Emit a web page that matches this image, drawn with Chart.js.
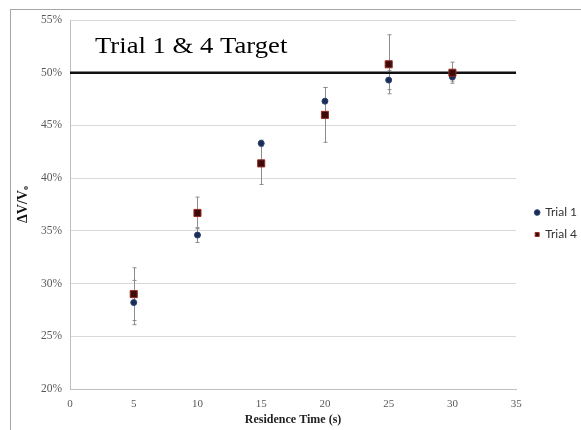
<!DOCTYPE html>
<html>
<head>
<meta charset="utf-8">
<script src="https://cdn.jsdelivr.net/npm/chart.js@4.4.0/dist/chart.umd.min.js"></script>
<style>
  body { margin: 0; background: #fff; }
  #wrap { position: relative; width: 581px; height: 430px; overflow: hidden; }
  #frame { position: absolute; left: 10px; top: 9px; width: 600px; height: 450px;
           border-left: 1px solid #a6a6a6; border-top: 1px solid #a6a6a6; }
  canvas { position: absolute; left: 0; top: 0; }
</style>
</head>
<body>
<div id="wrap">
  <div id="frame"></div>
  <canvas id="chart" width="581" height="430"></canvas>
</div>
<script>
// Data
const residenceTimes = [5, 10, 15, 20, 25, 30];
const trial1 = [28.2, 34.6, 43.3, 47.3, 49.3, 49.6];
const trial1Err = [2.1, 0.7, 0.3, 1.3, 0.9, 0.4];
const trial4 = [29.0, 36.7, 41.4, 46.0, 50.8, 50.0];
const trial4Err = [2.5, 1.5, 2.0, 2.6, 2.8, 1.0];
const targetValue = 50;
const xRange = [0, 35];
const yRange = [20, 55];

function toPoints(xs, ys) {
    return xs.map((x, i) => ({ x: x, y: ys[i] }));
}

// Draw vertical error bars from the scales
const errorBars = {
    id: 'errorBars',
    beforeDatasetsDraw(chart) {
        const ctx = chart.ctx;
        const xScale = chart.scales.x;
        const yScale = chart.scales.y;
        ctx.save();
        ctx.strokeStyle = '#8c8c8c';
        ctx.lineWidth = 1;
        chart.data.datasets.forEach(ds => {
            if (!ds.errors) return;
            ds.data.forEach((p, i) => {
                const px = Math.round(xScale.getPixelForValue(p.x)) + 0.5;
                const top = yScale.getPixelForValue(p.y + ds.errors[i]);
                const bot = yScale.getPixelForValue(p.y - ds.errors[i]);
                ctx.beginPath();
                ctx.moveTo(px, top);
                ctx.lineTo(px, bot);
                ctx.moveTo(px - 2, top);
                ctx.lineTo(px + 2, top);
                ctx.moveTo(px - 2, bot);
                ctx.lineTo(px + 2, bot);
                ctx.stroke();
            });
        });
        ctx.restore();
    }
};

// Annotation text inside the plot (source image is a bit stretched sideways)
const targetLabel = {
    id: 'targetLabel',
    afterDraw(chart) {
        const ctx = chart.ctx;
        const area = chart.chartArea;
        ctx.save();
        ctx.translate(area.left + 25, area.top + 33);
        ctx.scale(1.16, 1);
        ctx.font = '23px "Liberation Serif", serif';
        ctx.fillStyle = '#000';
        ctx.textBaseline = 'alphabetic';
        ctx.fillText('Trial 1 & 4 Target', 0, 0);
        ctx.restore();
    }
};

// Push the legend a little away from the plot area
const legendShift = {
    id: 'legendShift',
    afterLayout(chart) {
        if (chart.legend) {
            chart.legend.left += 9;
            chart.legend.right += 9;
        }
    }
};

Chart.defaults.font.family = '"Liberation Serif", serif';
Chart.defaults.color = '#595959';

const ctx = document.getElementById('chart').getContext('2d');
new Chart(ctx, {
    type: 'scatter',
    data: {
        datasets: [{
            label: 'Trial 1',
            data: toPoints(residenceTimes, trial1),
            errors: trial1Err,
            pointStyle: 'circle',
            pointRadius: 3,
            backgroundColor: '#1c2d55',
            borderColor: '#2a4275',
            borderWidth: 1,
            order: 2
        }, {
            label: 'Trial 4',
            data: toPoints(residenceTimes, trial4),
            errors: trial4Err,
            pointStyle: 'rect',
            pointRadius: 5,
            backgroundColor: '#3b0c0c',
            borderColor: '#9a2a22',
            borderWidth: 1,
            order: 1
        }, {
            label: 'Target',
            type: 'line',
            data: toPoints(xRange, [targetValue, targetValue]),
            borderColor: '#111',
            borderWidth: 2.5,
            pointRadius: 0,
            order: 3
        }]
    },
    options: {
        responsive: false,
        animation: false,
        layout: { padding: { left: 12, top: 20, right: 3, bottom: 3 } },
        plugins: {
            tooltip: { enabled: false },
            legend: {
                position: 'right',
                labels: {
                    usePointStyle: true,
                    boxWidth: 4,
                    boxHeight: 4,
                    padding: 10,
                    color: '#333',
                    font: { family: 'Lato, "Liberation Sans", sans-serif', size: 12 },
                    filter: item => item.text !== 'Target',
                    sort: (a, b) => a.datasetIndex - b.datasetIndex
                }
            }
        },
        scales: {
            x: {
                type: 'linear',
                min: xRange[0],
                max: xRange[1],
                afterFit: s => { s.height = 38; },
                ticks: { stepSize: 5, padding: 6, font: { size: 11 } },
                grid: { display: false, drawTicks: true, tickLength: 3, tickColor: '#bfbfbf' },
                border: { color: '#bfbfbf' },
                title: {
                    display: true,
                    text: 'Residence Time (s)',
                    color: '#222',
                    padding: { top: 0, bottom: 0 },
                    font: { size: 12, weight: 'bold' }
                }
            },
            y: {
                min: yRange[0],
                max: yRange[1],
                afterFit: s => { s.width = 58; },
                ticks: { stepSize: 5, padding: 8, callback: v => v + '%', font: { size: 11.5 } },
                grid: { color: '#d9d9d9', drawTicks: false },
                border: { color: '#bfbfbf' },
                title: {
                    display: true,
                    text: 'ΔV/Vₒ',
                    color: '#111',
                    padding: { top: 3, bottom: 2 },
                    font: { size: 14, weight: 'bold' }
                }
            }
        }
    },
    plugins: [errorBars, targetLabel, legendShift]
});
</script>
</body>
</html>
